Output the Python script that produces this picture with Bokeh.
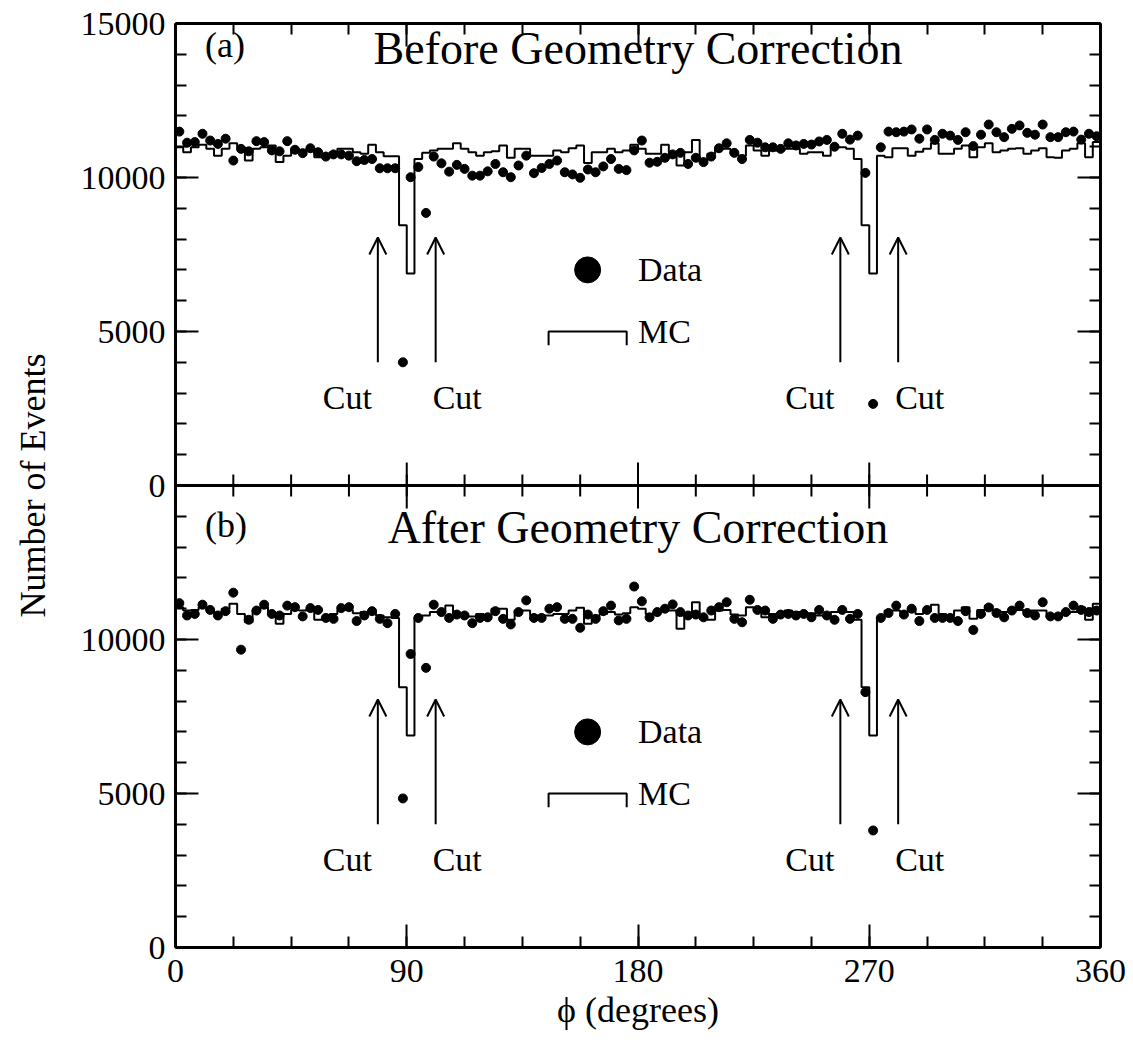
import numpy as np
from bokeh.plotting import figure
from bokeh.models import Range1d, LinearAxis, FixedTicker, Span, Label, Arrow, OpenHead
from bokeh.embed import file_html
from bokeh.resources import INLINE

# ---------------- data ----------------
bin_width = 3
phi_edges = np.arange(0, 361, bin_width)
phi_centers = phi_edges[:-1] + bin_width / 2

data_before = [
    11490, 11130, 11150, 11420, 11200, 11090, 11260, 10550, 10930, 10850,
    11180, 11150, 10880, 10850, 11180, 10900, 10790, 10950, 10820, 10680,
    10750, 10750, 10710, 10530, 10570, 10600, 10300, 10300, 10300, 4000,
    10010, 10340, 8850, 10680, 10460, 10190, 10410, 10280, 10060, 10060,
    10200, 10440, 10170, 10010, 10390, 10710, 10140, 10310, 10440, 10550,
    10170, 10100, 9990, 10260, 10170, 10360, 10600, 10280, 10240, 10880,
    11200, 10480, 10510, 10640, 10750, 10800, 10440, 10640, 10500, 10680,
    10950, 11110, 10800, 10600, 11220, 11130, 10980, 10980, 10930, 11110,
    11040, 11090, 11070, 11170, 11220, 11000, 11420, 11230, 11360, 10150,
    2650, 10980, 11490, 11470, 11490, 11560, 11260, 11560, 11220, 11420,
    11360, 11220, 11470, 11020, 11390, 11720, 11470, 11310, 11580, 11690,
    11450, 11390, 11720, 11310, 11310, 11470, 11490, 11230, 11420, 11340,
]

mc_before = [
    10980, 10820, 10980, 11060, 10930, 10710, 10930, 11110, 10980, 10550,
    10930, 10980, 11040, 10500, 10710, 10930, 10850, 10930, 10660, 10640,
    10820, 10930, 10930, 10820, 10770, 11060, 10820, 10690, 10690, 8450,
    6880, 10600, 10800, 10880, 10930, 10930, 11110, 10930, 10820, 10710,
    10820, 10850, 11040, 10640, 10930, 10930, 10710, 10710, 10710, 10880,
    10820, 10950, 11040, 10470, 10820, 10820, 10930, 10820, 10880, 11060,
    10930, 10770, 10770, 11060, 10820, 10390, 10820, 11220, 10550, 10770,
    10930, 10930, 10770, 10710, 11040, 10880, 10710, 10880, 10880, 10930,
    10930, 10770, 10820, 10820, 10710, 10980, 10980, 10930, 10600, 8450,
    6880, 10710, 10660, 10950, 10950, 10710, 10840, 10930, 11110, 10770,
    10770, 10930, 11040, 10660, 10980, 11110, 10820, 10880, 10930, 10950,
    10770, 10880, 10950, 10660, 10640, 10880, 10930, 11110, 10660, 11150,
]

data_after = [
    11180, 10780, 10830, 11130, 10960, 10780, 10920, 11520, 9670, 10640,
    10940, 11130, 10830, 10780, 11100, 11050, 10750, 11020, 10960, 10700,
    10670, 11020, 11050, 10600, 10780, 10920, 10670, 10530, 10830, 4840,
    9530, 10700, 9080, 11130, 10890, 10700, 10810, 10780, 10530, 10700,
    10720, 10920, 10670, 10490, 10890, 11270, 10700, 10700, 11000, 11050,
    10670, 10670, 10380, 10810, 10670, 10920, 11100, 10620, 10670, 11720,
    11240, 10720, 10890, 11000, 11140, 10890, 10780, 10810, 10720, 10940,
    11050, 11210, 10670, 10560, 11290, 10960, 10940, 10670, 10810, 10830,
    10780, 10830, 10720, 10960, 10780, 10640, 10960, 10670, 10830, 8290,
    3800, 10700, 10860, 11100, 10810, 11000, 10600, 10960, 10700, 10700,
    10700, 10600, 10920, 10310, 10830, 11040, 10860, 10720, 10940, 11100,
    10860, 10780, 11210, 10750, 10750, 10890, 11100, 10960, 10890, 10940,
]

mc_after = [
    11050, 10940, 10960, 11050, 10940, 10850, 11000, 11160, 10830, 10560,
    10940, 11050, 10850, 10510, 10830, 10960, 10940, 11000, 10640, 10640,
    10830, 10960, 10960, 10850, 10890, 10940, 10780, 10720, 10700, 8450,
    6880, 10700, 10780, 10890, 10890, 11100, 10830, 10780, 10750, 10830,
    10780, 11000, 11000, 10640, 10940, 10940, 10780, 10780, 10780, 10830,
    10830, 10940, 11030, 10510, 10640, 10830, 10890, 10810, 10850, 11050,
    11000, 10830, 10890, 10940, 10940, 10350, 10830, 11210, 10670, 10640,
    10940, 10960, 10810, 10780, 11050, 10940, 10720, 10830, 10850, 10940,
    10890, 10830, 10850, 10780, 10780, 10890, 10940, 10890, 10640, 8450,
    6880, 10700, 10940, 10940, 10890, 11000, 10830, 10920, 11130, 10830,
    10780, 10940, 11050, 10670, 10960, 11100, 10940, 10890, 10920, 10960,
    10890, 10940, 10940, 10720, 10750, 10830, 10890, 11050, 10640, 11160,
]

x_major_ticks = [0, 90, 180, 270, 360]
x_minor_ticks = list(np.arange(0, 360.1, 22.5))
panel_max = 15000
y_major_ticks = [0, 5000, 10000, 15000, 20000, 25000, 30000]
y_minor_ticks = list(range(0, 30001, 1000))
y_tick_labels = {0: "0", 5000: "5000", 10000: "10000", 15000: "0",
                 20000: "5000", 25000: "10000", 30000: "15000"}

cut_arrows_x = [78.75, 101.25, 258.75, 281.25]

FONT = "Liberation Serif"
INK = "black"

# ---------------- figure ----------------
p = figure(width=1133, height=1050,
           x_range=Range1d(0, 360), y_range=Range1d(0, 2 * panel_max),
           output_backend="svg", toolbar_location=None,
           x_axis_location=None, y_axis_location=None,
           min_border_left=175, min_border_right=33,
           min_border_top=23, min_border_bottom=103)
p.extra_y_ranges = {"top": Range1d(-panel_max, panel_max)}
p.grid.visible = False
p.outline_line_color = None
p.background_fill_color = "white"
p.border_fill_color = "white"

xt = FixedTicker(ticks=x_major_ticks, minor_ticks=x_minor_ticks)
yt = FixedTicker(ticks=y_major_ticks, minor_ticks=y_minor_ticks)


def style_axis(ax, labels=True):
    ax.axis_line_width = 3
    ax.axis_line_color = INK
    ax.major_tick_line_color = INK
    ax.minor_tick_line_color = INK
    ax.major_tick_line_width = 2
    ax.minor_tick_line_width = 2
    ax.major_tick_in = 23
    ax.major_tick_out = 0
    ax.minor_tick_in = 11
    ax.minor_tick_out = 0
    ax.major_label_text_font = FONT
    ax.major_label_text_color = INK
    ax.axis_label_text_font = FONT
    ax.axis_label_text_color = INK
    ax.axis_label_text_font_style = "normal"
    ax.axis_label_text_font_size = "36px"
    ax.major_label_text_font_size = "34px"
    if not labels:
        ax.major_label_overrides = {t: "" for t in ax.ticker.ticks}
        ax.major_label_standoff = 0


xb = LinearAxis(ticker=xt, axis_label="\u03d5 (degrees)")
style_axis(xb)
xb.major_label_standoff = 12
xb.axis_label_standoff = 5
p.add_layout(xb, "below")

xa = LinearAxis(ticker=xt)
style_axis(xa, labels=False)
p.add_layout(xa, "above")

yl = LinearAxis(ticker=yt, axis_label="Number of Events")
style_axis(yl)
yl.major_label_overrides = y_tick_labels
yl.major_label_standoff = 10
yl.axis_label_standoff = 25
p.add_layout(yl, "left")

yr = LinearAxis(ticker=yt)
style_axis(yr, labels=False)
p.add_layout(yr, "right")

# divider between the panels
p.add_layout(Span(location=panel_max, dimension="width", line_width=3, line_color=INK))
maj_len = 23 / 30.8 * 1000
min_len = 11 / 30.8 * 1000
xm = np.array(x_major_ticks, dtype=float)
xn = np.array(x_minor_ticks, dtype=float)
p.segment(x0=xm, x1=xm, y0=panel_max - maj_len, y1=panel_max + maj_len,
          line_color=INK, line_width=2)
p.segment(x0=xn, x1=xn, y0=panel_max - min_len, y1=panel_max + min_len,
          line_color=INK, line_width=2)

panels = [
    ("top", data_before, mc_before, "(a)", "Before Geometry Correction", 14290, 14190),
    ("default", data_after, mc_after, "(b)", "After Geometry Correction", 13730, 13640),
]


def add_label(x, y, text, size, align, rn, x_offset=0):
    p.add_layout(Label(x=x, y=y, text=text, text_font=FONT, text_color=INK,
                       text_font_size=size, text_baseline="middle",
                       text_align=align, x_offset=x_offset, y_range_name=rn))


for rn, dat, mc, tag, title, tag_y, title_y in panels:
    p.step(x=phi_edges, y=list(mc) + [mc[-1]], mode="after",
           line_color=INK, line_width=2, y_range_name=rn)
    p.scatter(x=phi_centers, y=dat, size=9, marker="circle",
              fill_color=INK, line_color=INK, y_range_name=rn)

    add_label(11.5, tag_y, tag, "36px", "left", rn)
    add_label(180, title_y, title, "46px", "center", rn)

    for i, ax_x in enumerate(cut_arrows_x):
        p.add_layout(Arrow(end=OpenHead(size=17, line_width=2, line_color=INK),
                           x_start=ax_x, y_start=4000, x_end=ax_x, y_end=8050,
                           line_width=2, line_color=INK, y_range_name=rn))
        left = (i % 2 == 0)
        add_label(ax_x, 2870, "Cut", "34px", "right" if left else "left", rn,
                  x_offset=-6 if left else -3)

    # legend
    p.scatter(x=[160.4], y=[7000], size=26, marker="circle",
              fill_color=INK, line_color=INK, y_range_name=rn)
    add_label(180, 7000, "Data", "34px", "left", rn)
    p.line(x=[145.2, 145.2, 175.6, 175.6], y=[4550, 5000, 5000, 4550],
           line_color=INK, line_width=2, y_range_name=rn)
    add_label(180, 5000, "MC", "34px", "left", rn)

open("out.html", "w").write(file_html(p, INLINE))
